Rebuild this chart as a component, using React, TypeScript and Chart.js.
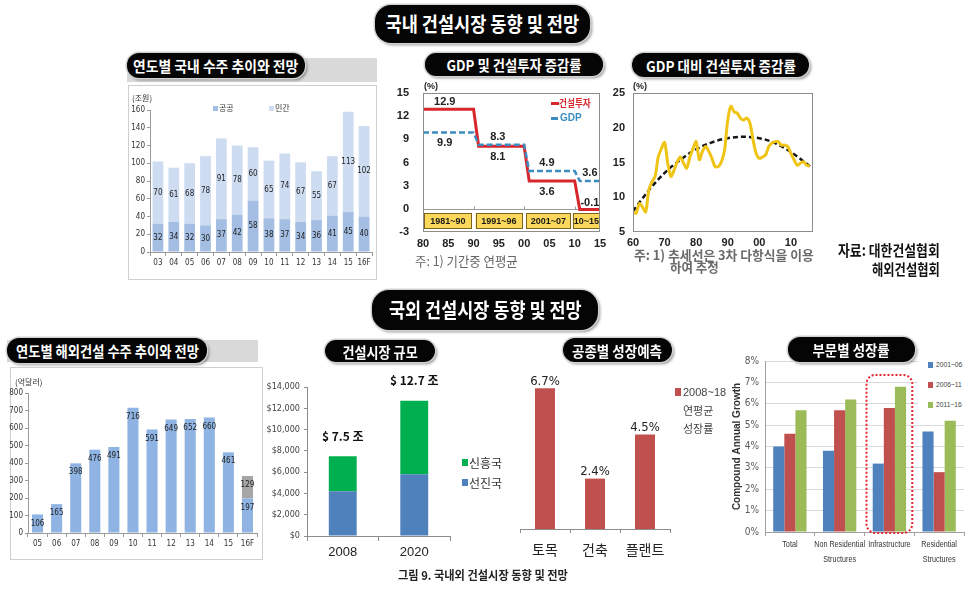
import React, { useEffect, useLayoutEffect, useRef, useState } from "react";
import { Chart, registerables } from "chart.js";

Chart.register(...registerables);

const KR = "'Noto Sans CJK KR', 'Noto Sans', sans-serif";
const SANS = "'Liberation Sans', Arial, 'DejaVu Sans', sans-serif";
const NARROW = "'Liberation Sans Narrow', 'Arial Narrow', 'DejaVu Sans Condensed', 'Liberation Sans', sans-serif";
Chart.defaults.font.family = KR;

// ---------- 연도별 국내 수주 추이와 전망 ----------
const domCategories = ["03", "04", "05", "06", "07", "08", "09", "10", "11", "12", "13", "14", "15", "16F"];
const domPublic = [32, 34, 32, 30, 37, 42, 58, 38, 37, 34, 36, 41, 45, 40];
const domPrivate = [70, 61, 68, 78, 91, 78, 60, 65, 74, 67, 55, 67, 113, 102];
const domSeriesNames = ["공공", "민간"];

// ---------- GDP 및 건설투자 증감률 ----------
const stepYears = [80, 90, 91, 100, 101, 110, 111, 115];
const constructionInvest = [12.9, 12.9, 8.1, 8.1, 3.6, 3.6, -0.1, -0.1];
const gdpGrowth = [9.9, 9.9, 8.3, 8.3, 4.9, 4.9, 3.6, 3.6];
const invSeriesNames = ["건설투자", "GDP"];
const periodLabels = ["1981~90", "1991~96", "2001~07", "10~15"];
const periodFrom = [80.2, 90.4, 100.4, 109.6];
const periodTo = [89.6, 99.6, 109.2, 115];
const stepLabelYears = [84.3, 94.8, 104.5, 113];
const constrLabelAbove = [true, false, false, true];
const gdpLabelAbove = [false, true, true, true];

// ---------- GDP 대비 건설투자 증감률 ----------
const ratioYears = [60, 61, 62, 63, 64, 65, 66, 67, 68, 69, 70, 71, 72, 73, 74, 75, 76, 77, 78, 79, 80, 81, 82, 83, 84, 85, 86, 87, 88, 89, 90, 91, 92, 93, 94, 95, 96, 97, 98, 99, 100, 101, 102, 103, 104, 105, 106, 107, 108, 109, 110, 111, 112, 113, 114, 115, 116];
const ratioValues = [7.9, 7.7, 9.1, 8.6, 7.9, 11.0, 12.2, 13.0, 15.8, 17.0, 17.9, 14.9, 13.0, 13.9, 15.1, 15.8, 14.9, 14.2, 15.8, 17.0, 18.0, 15.4, 16.6, 17.3, 16.6, 15.6, 14.4, 14.4, 15.1, 16.8, 21.1, 23.1, 22.3, 22.1, 21.4, 21.1, 21.4, 20.7, 18.3, 16.3, 15.6, 15.8, 16.1, 17.3, 17.8, 18.0, 18.0, 17.5, 17.5, 17.3, 16.3, 15.4, 14.6, 14.9, 15.1, 14.6, 14.5];
const trendYears = [60, 65, 70, 75, 80, 85, 90, 95, 100, 105, 110, 116.5];
const trendValues = [8.0, 11.0, 13.5, 15.4, 16.9, 17.9, 18.5, 18.7, 18.5, 17.8, 16.5, 14.3];

// ---------- 연도별 해외건설 수주 추이와 전망 ----------
const osCategories = ["05", "06", "07", "08", "09", "10", "11", "12", "13", "14", "15", "16F"];
const osOrders = [106, 165, 398, 476, 491, 716, 591, 649, 652, 660, 461, 197];
const osForecastExtra = [null, null, null, null, null, null, null, null, null, null, null, 129];

// ---------- 건설시장 규모 ----------
const marketYears = ["2008", "2020"];
const marketAdvanced = [4200, 5800];
const marketEmerging = [3300, 6900];
const marketSeriesNames = ["선진국", "신흥국"];

// ---------- 공종별 성장예측 ----------
const tradeCategories = ["토목", "건축", "플랜트"];
const tradeGrowth = [6.7, 2.4, 4.5];

// ---------- 부문별 성장률 ----------
const sectorCategories = [["Total"], ["Non Residential", "Structures"], ["Infrastructure"], ["Residential", "Structures"]];
const sectorPeriods = ["2001~06", "2006~11", "2011~16"];
const sector0106 = [4.0, 3.8, 3.2, 4.7];
const sector0611 = [4.6, 5.7, 5.8, 2.8];
const sector1116 = [5.7, 6.2, 6.8, 5.2];
const sectorHighlightIndex = 2;
const sectorHighlightTop = 7.35;

// ---------- helpers ----------
const zeroPad = (s: any) => { s.paddingTop = 0; s.paddingBottom = 0; s.paddingLeft = 0; s.paddingRight = 0; };
const fixW = (w: number) => (s: any) => { s.width = w; zeroPad(s); };
const fixH = (h: number) => (s: any) => { s.height = h; zeroPad(s); };
const axisGray = "#9a9a9a";
const baseOpts = {
  animation: false,
  responsive: false,
  devicePixelRatio: 1,
};
const noLegend = { legend: { display: false }, tooltip: { enabled: false } };

function barLabels(size: number, mode: "center" | "insideTop", family: string) {
  return {
    id: "barLabels",
    afterDatasetsDraw(chart: any) {
      const ctx = chart.ctx;
      ctx.save();
      ctx.font = `${size}px ${family}`;
      ctx.fillStyle = "#222";
      ctx.textAlign = "center";
      ctx.textBaseline = "middle";
      chart.data.datasets.forEach((ds: any, di: number) => {
        const meta = chart.getDatasetMeta(di);
        meta.data.forEach((el: any, i: number) => {
          const v = ds.data[i];
          if (v == null || v === 0) return;
          const p = el.getProps(["x", "y", "base"], true);
          const ty = mode === "center" ? (p.y + p.base) / 2 : p.y + 9;
          ctx.fillText(String(v), p.x, ty);
        });
      });
      ctx.restore();
    },
  };
}

const framePlugin = {
  id: "frame",
  afterDraw(chart: any) {
    const { ctx, chartArea: a } = chart;
    ctx.save();
    ctx.strokeStyle = "#8c8c8c";
    ctx.lineWidth = 1;
    ctx.strokeRect(Math.round(a.left) + 0.5, Math.round(a.top) + 0.5, Math.round(a.right - a.left) - 1, Math.round(a.bottom - a.top) - 1);
    ctx.restore();
  },
};

function makeDomestic() {
  return {
    type: "bar",
    data: {
      labels: domCategories,
      datasets: [
        { label: domSeriesNames[0], data: domPublic, backgroundColor: "#a4bee3", barPercentage: 0.68, categoryPercentage: 1 },
        { label: domSeriesNames[1], data: domPrivate, backgroundColor: "#cddcf1", barPercentage: 0.68, categoryPercentage: 1 },
      ],
    },
    options: {
      ...baseOpts,
      layout: { padding: { left: 0, top: 24, right: 4, bottom: 0 } },
      plugins: noLegend,
      scales: {
        x: { stacked: true, afterFit: fixH(27), grid: { drawOnChartArea: false, tickLength: 4, color: axisGray }, border: { color: axisGray }, ticks: { font: { size: 8, family: NARROW }, color: "#333", padding: 2, autoSkip: false, maxRotation: 0 } },
        y: { stacked: true, min: 0, max: 160, afterFit: fixW(21), grid: { drawOnChartArea: false, tickLength: 3, color: axisGray }, border: { color: axisGray }, ticks: { stepSize: 20, font: { size: 8, family: NARROW }, color: "#333", padding: 2 } },
      },
    },
    plugins: [barLabels(8, "center", NARROW)],
  };
}

function makeOverseas() {
  return {
    type: "bar",
    data: {
      labels: osCategories,
      datasets: [
        { label: "수주", data: osOrders, backgroundColor: "#8fb4e3", barPercentage: 0.58, categoryPercentage: 1 },
        { label: "전망", data: osForecastExtra, backgroundColor: "#a6a6a6", barPercentage: 0.58, categoryPercentage: 1 },
      ],
    },
    options: {
      ...baseOpts,
      layout: { padding: { left: 0, top: 25, right: 5, bottom: 0 } },
      plugins: noLegend,
      scales: {
        x: { stacked: true, afterFit: fixH(26), grid: { drawOnChartArea: false, tickLength: 4, color: axisGray }, border: { color: axisGray }, ticks: { font: { size: 8, family: NARROW }, color: "#333", padding: 2, autoSkip: false, maxRotation: 0 } },
        y: { stacked: true, min: 0, max: 800, afterFit: fixW(23), grid: { drawOnChartArea: false, tickLength: 3, color: axisGray }, border: { color: axisGray }, ticks: { stepSize: 100, font: { size: 8, family: NARROW }, color: "#333", padding: 2 } },
      },
    },
    plugins: [barLabels(8, "insideTop", NARROW)],
  };
}

const yearTick = (v: any) => String(Math.round(Number(v)) % 100).padStart(2, "0");

function makeInvestment() {
  const extras = {
    id: "invExtras",
    beforeDatasetsDraw(chart: any) {
      const { ctx, chartArea: a, scales } = chart;
      const x = scales.x, y = scales.y;
      ctx.save();
      const y0 = Math.round(y.getPixelForValue(0)) + 0.5;
      ctx.strokeStyle = "#9a9a9a";
      ctx.lineWidth = 1;
      ctx.beginPath();
      ctx.moveTo(a.left, y0);
      ctx.lineTo(a.right, y0);
      [90, 100, 110].forEach((yr) => {
        const px = Math.round(x.getPixelForValue(yr)) + 0.5;
        ctx.moveTo(px, y0);
        ctx.lineTo(px, y0 - 3);
      });
      ctx.stroke();
      ctx.font = `bold 9px ${SANS}`;
      ctx.textAlign = "center";
      ctx.textBaseline = "middle";
      periodLabels.forEach((lab, i) => {
        const l = x.getPixelForValue(periodFrom[i]);
        const r = x.getPixelForValue(periodTo[i]);
        const t = y.getPixelForValue(-0.55);
        const b = y.getPixelForValue(-2.5);
        ctx.fillStyle = "#fbd75b";
        ctx.fillRect(l, t, r - l, b - t);
        ctx.strokeStyle = "#7a6420";
        ctx.strokeRect(Math.round(l) + 0.5, Math.round(t) + 0.5, Math.round(r - l) - 1, Math.round(b - t));
        ctx.fillStyle = "#1a1a1a";
        ctx.fillText(lab, (l + r) / 2, (t + b) / 2 + 0.5);
      });
      ctx.restore();
    },
    afterDatasetsDraw(chart: any) {
      const { ctx, scales } = chart;
      const x = scales.x, y = scales.y;
      ctx.save();
      ctx.font = `bold 11px ${SANS}`;
      ctx.fillStyle = "#222";
      ctx.textAlign = "center";
      ctx.textBaseline = "middle";
      stepLabelYears.forEach((yr, i) => {
        const cv = constructionInvest[i * 2];
        const gv = gdpGrowth[i * 2];
        const px = x.getPixelForValue(yr);
        ctx.fillText(cv.toFixed(1), px, y.getPixelForValue(cv) + (constrLabelAbove[i] ? -7 : 11));
        ctx.fillText(gv.toFixed(1), px, y.getPixelForValue(gv) + (gdpLabelAbove[i] ? -8 : 11));
      });
      ctx.restore();
    },
  };
  return {
    type: "line",
    data: {
      datasets: [
        { label: invSeriesNames[1], data: stepYears.map((v, i) => ({ x: v, y: gdpGrowth[i] })), borderColor: "#3b8dc0", borderWidth: 2.5, borderDash: [6, 3], pointRadius: 0, tension: 0 },
        { label: invSeriesNames[0], data: stepYears.map((v, i) => ({ x: v, y: constructionInvest[i] })), borderColor: "#d8262d", borderWidth: 3, pointRadius: 0, tension: 0 },
      ],
    },
    options: {
      ...baseOpts,
      layout: { padding: { left: 0, top: 13, right: 10, bottom: 0 } },
      plugins: noLegend,
      scales: {
        x: { type: "linear", min: 80, max: 115, afterFit: fixH(23), grid: { display: false, drawTicks: false }, border: { display: false }, ticks: { stepSize: 5, callback: yearTick, font: { size: 11, weight: "bold", family: SANS }, color: "#222", padding: 5 } },
        y: { min: -3, max: 15, afterFit: fixW(31), grid: { display: false, drawTicks: false }, border: { display: false }, ticks: { stepSize: 3, font: { size: 11, weight: "bold", family: SANS }, color: "#222", padding: 14 } },
      },
    },
    plugins: [extras, framePlugin],
  };
}

function makeRatio() {
  return {
    type: "line",
    data: {
      datasets: [
        { label: "건설투자/GDP", data: ratioYears.map((v, i) => ({ x: v, y: ratioValues[i] })), borderColor: "#f0c414", borderWidth: 3, pointRadius: 0, tension: 0.3 },
        { label: "추세선", data: trendYears.map((v, i) => ({ x: v, y: trendValues[i] })), borderColor: "#151515", borderWidth: 2.5, borderDash: [5, 3], pointRadius: 0, cubicInterpolationMode: "monotone" },
      ],
    },
    options: {
      ...baseOpts,
      layout: { padding: { left: 0, top: 13, right: 5, bottom: 0 } },
      plugins: noLegend,
      scales: {
        x: { type: "linear", min: 60, max: 117, afterFit: fixH(20), grid: { display: false, drawTicks: false }, border: { display: false }, ticks: { stepSize: 10, includeBounds: false, callback: yearTick, font: { size: 11, weight: "bold", family: SANS }, color: "#222", padding: 4 } },
        y: { min: 5, max: 25, afterFit: fixW(23), grid: { display: false, drawTicks: false }, border: { display: false }, ticks: { stepSize: 5, font: { size: 11, weight: "bold", family: SANS }, color: "#222", padding: 8 } },
      },
    },
    plugins: [framePlugin],
  };
}

function makeMarket() {
  const totals = {
    id: "marketTotals",
    afterDatasetsDraw(chart: any) {
      const { ctx } = chart;
      const last = chart.getDatasetMeta(chart.data.datasets.length - 1);
      ctx.save();
      ctx.font = `bold 12px ${KR}`;
      ctx.fillStyle = "#111";
      ctx.textAlign = "center";
      ctx.textBaseline = "middle";
      last.data.forEach((el: any, i: number) => {
        const total = chart.data.datasets.reduce((s: number, d: any) => s + (d.data[i] || 0), 0);
        ctx.fillText(`$ ${(total / 1000).toFixed(1)} 조`, el.x, el.y - 20);
      });
      ctx.restore();
    },
  };
  return {
    type: "bar",
    data: {
      labels: marketYears,
      datasets: [
        { label: marketSeriesNames[0], data: marketAdvanced, backgroundColor: "#4f81bd", barPercentage: 0.39, categoryPercentage: 1 },
        { label: marketSeriesNames[1], data: marketEmerging, backgroundColor: "#00b050", barPercentage: 0.39, categoryPercentage: 1 },
      ],
    },
    options: {
      ...baseOpts,
      layout: { padding: { left: 0, top: 21, right: 5, bottom: 0 } },
      plugins: noLegend,
      scales: {
        x: { stacked: true, afterFit: fixH(32), grid: { drawOnChartArea: false, tickLength: 5, color: "#8c8c8c" }, border: { color: "#8c8c8c" }, ticks: { font: { size: 13, family: SANS }, color: "#222", padding: 4 } },
        y: { stacked: true, min: 0, max: 14000, afterFit: fixW(45), grid: { drawOnChartArea: false, tickLength: 3, color: "#8c8c8c" }, border: { color: "#8c8c8c" }, ticks: { stepSize: 2000, callback: (v: any) => "$" + Number(v).toLocaleString("en-US"), font: { size: 9, family: NARROW }, color: "#444", padding: 4 } },
      },
    },
    plugins: [totals],
  };
}

function makeTrade() {
  const labels = {
    id: "tradeLabels",
    afterDatasetsDraw(chart: any) {
      const { ctx } = chart;
      const meta = chart.getDatasetMeta(0);
      ctx.save();
      ctx.font = `13px ${NARROW}`;
      ctx.fillStyle = "#222";
      ctx.textAlign = "center";
      ctx.textBaseline = "middle";
      meta.data.forEach((el: any, i: number) => {
        ctx.fillText(`${chart.data.datasets[0].data[i]}%`, el.x, el.y - 7);
      });
      ctx.restore();
    },
  };
  return {
    type: "bar",
    data: {
      labels: tradeCategories,
      datasets: [{ label: "2008~18 연평균 성장률", data: tradeGrowth, backgroundColor: "#c0504d", barPercentage: 0.4, categoryPercentage: 1 }],
    },
    options: {
      ...baseOpts,
      layout: { padding: { left: 8, top: 6, right: 7, bottom: 0 } },
      plugins: noLegend,
      scales: {
        x: { afterFit: fixH(31), grid: { drawOnChartArea: false, tickLength: 4, color: "#8c8c8c" }, border: { color: "#8c8c8c" }, ticks: { font: { size: 14, family: KR }, color: "#222", padding: 8 } },
        y: { display: false, min: 0, max: 8 },
      },
    },
    plugins: [labels],
  };
}

function makeSector() {
  const highlight = {
    id: "highlight",
    afterDatasetsDraw(chart: any) {
      const { ctx, scales } = chart;
      const x = scales.x, y = scales.y;
      const cx = x.getPixelForValue(sectorHighlightIndex);
      const half = (x.getPixelForValue(1) - x.getPixelForValue(0)) * 0.46;
      const top = y.getPixelForValue(sectorHighlightTop);
      const bottom = y.getPixelForValue(0) + 1;
      ctx.save();
      ctx.strokeStyle = "#e3262f";
      ctx.lineWidth = 2;
      ctx.setLineDash([2, 2]);
      ctx.beginPath();
      (ctx as any).roundRect(cx - half, top, half * 2, bottom - top, 9);
      ctx.stroke();
      ctx.restore();
    },
  };
  const condensedLabels = {
    id: "condensedLabels",
    afterDraw(chart: any) {
      const { ctx, scales } = chart;
      const x = scales.x;
      ctx.save();
      ctx.font = `9px ${SANS}`;
      ctx.fillStyle = "#333";
      ctx.textAlign = "center";
      ctx.textBaseline = "middle";
      (chart.data.labels as string[][]).forEach((lines, i) => {
        const cx = x.getPixelForValue(i);
        lines.forEach((line, j) => {
          ctx.save();
          ctx.translate(cx, x.top + 13 + j * 15);
          ctx.scale(0.8, 1);
          ctx.fillText(line, 0, 0);
          ctx.restore();
        });
      });
      ctx.restore();
    },
  };
  return {
    type: "bar",
    data: {
      labels: sectorCategories,
      datasets: [
        { label: sectorPeriods[0], data: sector0106, backgroundColor: "#4f81bd", barPercentage: 1, categoryPercentage: 0.67 },
        { label: sectorPeriods[1], data: sector0611, backgroundColor: "#c0504d", barPercentage: 1, categoryPercentage: 0.67 },
        { label: sectorPeriods[2], data: sector1116, backgroundColor: "#9bbb59", barPercentage: 1, categoryPercentage: 0.67 },
      ],
    },
    options: {
      ...baseOpts,
      layout: { padding: { left: 0, top: 9, right: 9, bottom: 0 } },
      plugins: noLegend,
      scales: {
        x: { afterFit: fixH(38), grid: { drawOnChartArea: false, tickLength: 4, color: "#a0a0a0" }, border: { color: "#a0a0a0" }, ticks: { display: false } },
        y: { min: 0, max: 8, afterFit: fixW(37), grid: { color: "#d9d9d9", drawTicks: false }, border: { color: "#a0a0a0" }, title: { display: true, text: "Compound Annual Growth", font: { size: 10, weight: "bold", family: SANS }, color: "#333", padding: { top: 3, bottom: 0 } }, ticks: { stepSize: 1, callback: (v: any) => v + "%", font: { size: 10, family: NARROW }, color: "#595959", padding: 6 } },
      },
    },
    plugins: [highlight, condensedLabels],
  };
}

// ---------- components ----------
function FitText({ text, width, size, weight = 400, color = "#222", origin = "left", family = KR }: any) {
  const ref = useRef<HTMLSpanElement>(null);
  const [k, setK] = useState(1);
  useLayoutEffect(() => {
    const m = () => {
      const el = ref.current;
      if (!el || !width) return;
      const w = el.offsetWidth;
      if (w > 0) setK(width / w);
    };
    m();
    const f = (document as any).fonts;
    if (f && f.ready) f.ready.then(m);
  }, [text, width, size]);
  return (
    <span
      ref={ref}
      style={{
        display: "inline-block",
        whiteSpace: "nowrap",
        fontSize: size,
        fontWeight: weight,
        color,
        fontFamily: family,
        lineHeight: `${size}px`,
        verticalAlign: "top",
        transform: `scaleX(${k})`,
        transformOrigin: origin === "center" ? "50% 50%" : "0 50%",
      }}
    >
      {text}
    </span>
  );
}

function Label({ x, cy, text, size, weight = 400, color = "#222", width, center = false, family = KR }: any) {
  const box: any = { position: "absolute", top: cy - size / 2, height: size, fontSize: size, lineHeight: `${size}px`, whiteSpace: "nowrap" };
  if (center) {
    return (
      <div style={{ ...box, left: x - 300, width: 600, textAlign: "center" }}>
        <FitText text={text} width={width} size={size} weight={weight} color={color} origin="center" family={family} />
      </div>
    );
  }
  return (
    <div style={{ ...box, left: x }}>
      <FitText text={text} width={width} size={size} weight={weight} color={color} family={family} />
    </div>
  );
}

function Pill({ x, y, w, h, text, size, tw, r }: any) {
  return (
    <div
      style={{
        position: "absolute",
        left: x,
        top: y,
        width: w,
        height: h,
        boxSizing: "border-box",
        background: "#050505",
        borderRadius: r,
        boxShadow: "0 0 0 1.5px #d2d2d2, 2px 2px 3px rgba(0,0,0,0.45)",
        display: "flex",
        alignItems: "center",
        justifyContent: "center",
        fontSize: size,
        lineHeight: `${size}px`,
      }}
    >
      <FitText text={text} width={tw} size={size} weight={700} color="#fff" origin="center" />
    </div>
  );
}

function ChartCanvas({ x, y, w, h, make }: any) {
  const ref = useRef<HTMLCanvasElement>(null);
  useEffect(() => {
    const c = new Chart(ref.current as HTMLCanvasElement, make());
    return () => c.destroy();
  }, []);
  return (
    <div style={{ position: "absolute", left: x, top: y, width: w, height: h }}>
      <canvas ref={ref} width={w} height={h} style={{ width: w, height: h }} />
    </div>
  );
}

function Swatch({ x, y, w, h, color }: any) {
  return <div style={{ position: "absolute", left: x, top: y, width: w, height: h, background: color }} />;
}

export default function App() {
  return (
    <div style={{ position: "fixed", left: 0, top: 0, width: 975, height: 591, background: "#fff", overflow: "hidden", fontFamily: KR }}>
      {/* ===== 국내 ===== */}
      <Pill x={375} y={5} w={215} h={38} r={16} text="국내 건설시장 동향 및 전망" size={20} tw={194} />

      {/* chart A */}
      <div style={{ position: "absolute", left: 127, top: 58, width: 250, height: 24, background: "#d9d9d9" }} />
      <Pill x={127} y={53} w={178} h={25} r={12} text="연도별 국내 수주 추이와 전망" size={15} tw={165} />
      <div style={{ position: "absolute", left: 128, top: 85, width: 249, height: 195, border: "1px solid #cfcfcf", boxSizing: "border-box" }} />
      <ChartCanvas x={129} y={86} w={247} h={193} make={makeDomestic} />
      <Label x={132} cy={98} text="(조원)" size={8} color="#333" />
      <Swatch x={213} y={106} w={5} h={5} color="#a4bee3" />
      <Label x={219} cy={108} text={domSeriesNames[0]} size={8} color="#333" />
      <Swatch x={269} y={106} w={5} h={5} color="#cddcf1" />
      <Label x={275} cy={108} text={domSeriesNames[1]} size={8} color="#333" />

      {/* chart B */}
      <Pill x={425} y={53} w={178} h={23} r={11} text="GDP 및 건설투자 증감률" size={15} tw={135} />
      <ChartCanvas x={392} y={80} w={218} h={175} make={makeInvestment} />
      <Label x={424} cy={86} text="(%)" size={9} weight={700} color="#222" family={SANS} />
      <div style={{ position: "absolute", left: 551, top: 102, width: 8, height: 3, background: "#d8262d" }} />
      <Label x={559} cy={103} text={invSeriesNames[0]} size={10} weight={700} color="#d8262d" width={32} />
      <div style={{ position: "absolute", left: 551, top: 117, width: 7, height: 2.5, background: "#3b8dc0" }} />
      <Label x={560} cy={118} text={invSeriesNames[1]} size={10} weight={700} color="#3b8dc0" family={SANS} />
      <Label x={415} cy={260} text="주: 1) 기간중 연평균" size={13} color="#666" width={103} />

      {/* chart C */}
      <Pill x={632} y={53} w={177} h={24} r={12} text="GDP  대비 건설투자 증감률" size={15} tw={150} />
      <ChartCanvas x={610} y={80} w={208} h={172} make={makeRatio} />
      <Label x={633} cy={86} text="(%)" size={9} weight={700} color="#222" family={SANS} />
      <Label x={634} cy={254} text="주: 1) 추세선은 3차 다항식을 이용" size={13} weight={700} color="#6a6a6a" width={180} />
      <Label x={670} cy={266} text="하여 추정" size={13} weight={700} color="#6a6a6a" width={49} />

      {/* source */}
      <Label x={838} cy={249} text="자료: 대한건설협회" size={15} weight={700} color="#111" width={102} />
      <Label x={872} cy={268} text="해외건설협회" size={15} weight={700} color="#111" width={68} />

      {/* ===== 국외 ===== */}
      <Pill x={372} y={290} w={226} h={40} r={17} text="국외 건설시장 동향 및 전망" size={20} tw={193} />

      {/* chart D */}
      <div style={{ position: "absolute", left: 7, top: 340, width: 251, height: 22, background: "#d9d9d9" }} />
      <Pill x={7} y={338} w={200} h={25} r={12} text="연도별 해외건설 수주 추이와 전망" size={15} tw={183} />
      <div style={{ position: "absolute", left: 10, top: 367, width: 253, height: 193, border: "1px solid #cfcfcf", boxSizing: "border-box" }} />
      <ChartCanvas x={5} y={368} w={257} h={191} make={makeOverseas} />
      <Label x={15} cy={382} text="(억달러)" size={8} color="#333" />

      {/* chart E */}
      <Pill x={325} y={340} w={110} h={22} r={11} text="건설시장 규모" size={15} tw={75} />
      <ChartCanvas x={262} y={366} w={193} h={202} make={makeMarket} />
      <Swatch x={462} y={459} w={6} h={7} color="#00b050" />
      <Label x={469} cy={463} text={marketSeriesNames[1]} size={12} color="#333" />
      <Swatch x={462} y={479} w={6} h={7} color="#4f81bd" />
      <Label x={469} cy={483} text={marketSeriesNames[0]} size={12} color="#333" />

      {/* chart F */}
      <Pill x={563} y={338} w={109} h={24} r={12} text="공종별 성장예측" size={15} tw={90} />
      <ChartCanvas x={512} y={355} w={165} h={205} make={makeTrade} />
      <Swatch x={675} y={388} w={6} h={8} color="#c0504d" />
      <Label x={683} cy={392} text="2008~18" size={11} color="#444" family={SANS} />
      <Label x={683} cy={410} text="연평균" size={11} color="#444" />
      <Label x={683} cy={428} text="성장률" size={11} color="#444" />

      {/* chart G */}
      <ChartCanvas x={728} y={352} w={245} h={218} make={makeSector} />
      <div style={{ position: "absolute", left: 918, top: 356, width: 57, height: 58, background: "#fff" }} />
      <Swatch x={928} y={362} w={5} h={6} color="#4f81bd" />
      <Label x={936} cy={365} text={sectorPeriods[0]} size={8} color="#444" family={SANS} width={26} />
      <Swatch x={928} y={382} w={5} h={6} color="#c0504d" />
      <Label x={936} cy={385} text={sectorPeriods[1]} size={8} color="#444" family={SANS} width={26} />
      <Swatch x={928} y={402} w={5} h={6} color="#9bbb59" />
      <Label x={936} cy={405} text={sectorPeriods[2]} size={8} color="#444" family={SANS} width={26} />
      <Pill x={788} y={337} w={127} h={25} r={12} text="부문별 성장률" size={15} tw={77} />

      {/* caption */}
      <Label x={398} cy={575} text="그림 9. 국내외 건설시장 동향 및 전망" size={12} weight={700} color="#222" width={170} />
    </div>
  );
}
